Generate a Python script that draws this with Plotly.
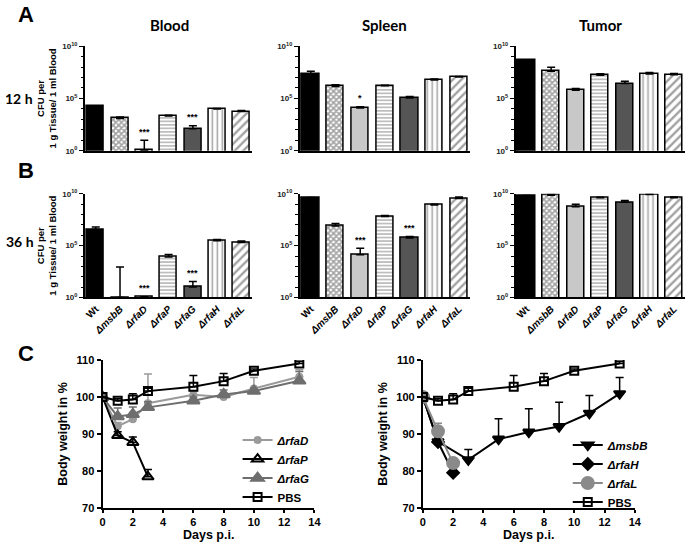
import math
import plotly.graph_objects as go

W, H = 696, 549

# ---- bar data (CFU per g tissue / ml blood), mean and upper SEM ----
strains = ["Wt", "ΔmsbB", "ΔrfaD", "ΔrfaP", "ΔrfaG", "ΔrfaH", "ΔrfaL"]

blood_12h = [1.7e4, 1.2e3, 1.1, 2.1e3, 1.3e2, 1.0e4, 5.5e3]
blood_12h_sem = [2e3, 5e2, 9, 4e2, 1.2e2, 1.2e3, 1.5e3]
spleen_12h = [2.2e7, 1.4e6, 1.2e4, 1.6e6, 1.1e5, 5.8e6, 1.1e7]
spleen_12h_sem = [1.8e7, 6e5, 4e3, 2e5, 4e4, 1.3e6, 1.6e6]
tumor_12h = [4.3e8, 4.0e7, 5.9e5, 1.6e7, 2.6e6, 2.2e7, 1.8e7]
tumor_12h_sem = [5e7, 5.3e7, 3e5, 6.4e6, 1.8e6, 8e6, 6e6]

blood_36h = [3.7e6, 1.0, 1.1, 7.9e3, 10, 3.0e5, 2.0e5]
blood_36h_sem = [2.6e6, 890, 0.1, 6.2e3, 25, 1e5, 8e4]
spleen_36h = [4.2e9, 7.8e6, 1.3e4, 6.3e7, 5.4e5, 8.5e8, 3.6e9]
spleen_36h_sem = [3e8, 6e6, 4.3e4, 1.6e7, 2.2e5, 1.5e8, 1.4e9]
tumor_36h = [6.5e9, 7.4e9, 5.6e8, 4.2e9, 1.5e9, 8.5e9, 4.2e9]
tumor_36h_sem = [3e8, 1.9e9, 4.2e8, 5e8, 7e8, 1.5e9, 8e8]

# significance marks: (panel index, strain index, text)
stars = [(0, 2, "***"), (0, 4, "***"), (1, 2, "*"),
         (3, 2, "***"), (3, 4, "***"), (4, 2, "***"), (4, 4, "***")]

# ---- body weight data (%) ----
days_rfaD = [0, 1, 2, 3, 6, 8, 10, 13]
rfaD = [100, 92.1, 94.0, 98.3, 100.6, 100.0, 102.3, 105.5]
rfaD_sem = [0, 1.0, 1.0, 7.9, 1.0, 1.0, 3.0, 1.9]
days_rfaP = [0, 1, 2, 3]
rfaP = [100, 89.6, 87.7, 78.4]
rfaP_sem = [0, 1.0, 1.5, 2.0]
days_rfaG = [0, 1, 2, 3, 6, 8, 10, 13]
rfaG = [100, 94.7, 95.3, 97.2, 99.0, 100.7, 101.6, 104.4]
rfaG_sem = [0, 2.3, 2.0, 1.5, 1.0, 1.2, 0.8, 2.5]
days_pbs = [0, 1, 2, 3, 6, 8, 10, 13]
pbs = [100, 99.0, 99.3, 101.6, 102.8, 104.3, 107.1, 109.1]
pbs_sem = [0, 0.5, 1.6, 0.8, 3.0, 2.1, 0.5, 0.5]
days_msbB = [0, 1, 3, 5, 7, 9, 11, 13]
msbB = [100, 87.9, 83.0, 88.6, 90.5, 92.0, 95.6, 100.9]
msbB_sem = [0, 1.0, 2.8, 5.5, 6.3, 6.6, 4.8, 4.4]
days_rfaH = [0, 1, 2]
rfaH = [100, 87.8, 79.5]
rfaH_sem = [0, 0.5, 0.5]
days_rfaL = [0, 1, 2]
rfaL = [100, 90.7, 82.1]
rfaL_sem = [0, 2.2, 1.4]

FONT = "Liberation Sans"
TITLE_FONT = "Lato"

bar_colors = ["black", "white", "#c8c8c8", "white", "#555555", "white", "white"]
bar_shapes = ["", "x", "", "-", "", "|", "/"]
bar_sizes = [4, 4, 4, 3.5, 4, 5, 6]
bar_solid = [0.3, 0.65, 0.3, 0.35, 0.3, 0.3, 0.4]


def px_x(a, b):
    return [a / W, b / W]


def px_y(top, bottom):
    return [1 - bottom / H, 1 - top / H]


fig = go.Figure()

panels = [
    (blood_12h, blood_12h_sem, (83, 253), (41, 148)),
    (spleen_12h, spleen_12h_sem, (301, 474), (41, 148)),
    (tumor_12h, tumor_12h_sem, (520, 692), (41, 148)),
    (blood_36h, blood_36h_sem, (83, 253), (192, 298)),
    (spleen_36h, spleen_36h_sem, (301, 474), (192, 298)),
    (tumor_36h, tumor_36h_sem, (520, 692), (192, 298)),
]

tick_text = ["<b>Wt</b>"] + ["<b><i>%s</i></b>" % s for s in strains[1:]]
minor_vals = [10 ** k for k in range(1, 10) if k != 5]

for i, (vals, sem, xd, yd) in enumerate(panels):
    n = i + 1
    xa = "x" if n == 1 else "x%d" % n
    ya = "y" if n == 1 else "y%d" % n
    fig.add_trace(go.Bar(
        x=list(range(len(strains))), y=vals, xaxis=xa, yaxis=ya,
        width=0.7, showlegend=False,
        marker=dict(color=bar_colors, line=dict(color="black", width=1.5),
                    pattern=dict(shape=bar_shapes, fgcolor="black", bgcolor="white",
                                 size=bar_sizes, solidity=bar_solid, fillmode="overlay")),
        error_y=dict(type="data", symmetric=False, array=sem,
                     arrayminus=[0] * len(sem), color="black", thickness=1.5, width=4),
    ))
    xaxis = dict(
        domain=px_x(*xd), anchor=ya, range=[-0.45, 6.45],
        showline=True, linecolor="black", linewidth=1.5, ticks="",
        showticklabels=n > 3, showgrid=False, zeroline=False)
    if n > 3:
        xaxis.update(tickmode="array", tickvals=list(range(len(strains))),
                     ticktext=tick_text, tickangle=-45,
                     tickfont=dict(family=FONT, size=10, color="black"))
    fig.layout["xaxis%d" % n] = xaxis
    fig.layout["yaxis%d" % n] = dict(
        domain=px_y(*yd), anchor=xa, type="log", range=[0, 10],
        showline=True, linecolor="black", linewidth=1.5,
        ticks="outside", ticklen=4, tickwidth=1.2, tickcolor="black",
        tickmode="array", tickvals=[1, 1e5, 1e10],
        ticktext=["<b>10<sup>0</sup></b>", "<b>10<sup>5</sup></b>", "<b>10<sup>10</sup></b>"],
        tickfont=dict(family=FONT, size=8, color="#222"),
        minor=dict(tickmode="array", tickvals=minor_vals, ticks="outside",
                   ticklen=2.5, tickwidth=1, tickcolor="black"),
        showgrid=False, zeroline=False)
    if n in (1, 4):
        fig.layout["yaxis%d" % n].title = dict(
            text="<b>CFU per<br>1 g Tissue/ 1 ml Blood</b>",
            font=dict(family=FONT, size=9.5, color="black"), standoff=4)

annotations = []
for p, s, txt in stars:
    vals, sem = panels[p][0], panels[p][1]
    top = math.log10(vals[s] + sem[s])
    n = p + 1
    annotations.append(dict(
        x=s, y=top + 0.15, xref="x" if n == 1 else "x%d" % n,
        yref="y" if n == 1 else "y%d" % n, text="<b>%s</b>" % txt,
        showarrow=False, yanchor="bottom", xanchor="center",
        font=dict(family=FONT, size=9, color="black")))


# ---- body weight panels ----
def line_trace(x, y, sem, name, color, symbol, size, ax, legend):
    return go.Scatter(
        x=x, y=y, name=name, mode="lines+markers", xaxis="x" + ax, yaxis="y" + ax,
        legend=legend,
        line=dict(color=color, width=2),
        marker=dict(symbol=symbol, size=size, color=color,
                    line=dict(color=color, width=2)),
        error_y=dict(type="data", symmetric=False, array=sem,
                     arrayminus=[0] * len(sem), color=color, thickness=1.5, width=4))


fig.add_trace(line_trace(days_rfaD, rfaD, rfaD_sem, "<i>ΔrfaD</i>", "#9a9a9a",
                         "circle", 6, "7", "legend"))
fig.add_trace(line_trace(days_rfaP, rfaP, rfaP_sem, "<i>ΔrfaP</i>", "black",
                         "triangle-up-open", 10, "7", "legend"))
fig.add_trace(line_trace(days_rfaG, rfaG, rfaG_sem, "<i>ΔrfaG</i>", "#6e6e6e",
                         "triangle-up", 11, "7", "legend"))
fig.add_trace(line_trace(days_pbs, pbs, pbs_sem, "PBS", "black",
                         "square-open", 8, "7", "legend"))

fig.add_trace(line_trace(days_msbB, msbB, msbB_sem, "<i>ΔmsbB</i>", "black",
                         "triangle-down", 10, "8", "legend2"))
fig.add_trace(line_trace(days_rfaH, rfaH, rfaH_sem, "<i>ΔrfaH</i>", "black",
                         "diamond", 9, "8", "legend2"))
fig.add_trace(line_trace(days_rfaL, rfaL, rfaL_sem, "<i>ΔrfaL</i>", "#8a8a8a",
                         "circle", 12, "8", "legend2"))
fig.add_trace(line_trace(days_pbs, pbs, pbs_sem, "PBS", "black",
                         "square-open", 8, "8", "legend2"))

for n, xd in ((7, (101, 316)), (8, (426, 641))):
    fig.layout["xaxis%d" % n] = dict(
        domain=px_x(*xd), anchor="y%d" % n, range=[0, 14], dtick=2,
        showline=True, linecolor="black", linewidth=2,
        ticks="outside", ticklen=3, tickwidth=2, tickcolor="black",
        tickfont=dict(family=FONT, size=11, color="black", weight="bold"),
        showgrid=False, zeroline=False)
    fig.layout["yaxis%d" % n] = dict(
        domain=px_y(362, 513), anchor="x%d" % n, range=[70, 110], dtick=10,
        showline=True, linecolor="black", linewidth=2,
        ticks="outside", ticklen=4, tickwidth=2, tickcolor="black",
        tickfont=dict(family=FONT, size=11, color="black", weight="bold"),
        title=dict(text="<b>Body weight in %</b>",
                   font=dict(family=FONT, size=12.5, color="black"), standoff=6),
        showgrid=False, zeroline=False)

legend_style = dict(font=dict(family=FONT, size=11.5, color="black", weight="bold"),
                    bgcolor="rgba(0,0,0,0)", itemwidth=30, tracegroupgap=0,
                    xanchor="left", yanchor="top")
fig.update_layout(
    legend=dict(x=238 / W, y=1 - 429 / H, **legend_style),
    legend2=dict(x=573 / W, y=1 - 434 / H, **legend_style),
)


# ---- text labels ----
def label(x, y, text, size, family=FONT):
    annotations.append(dict(x=x / W, y=1 - y / H, xref="paper", yref="paper",
                            xanchor="center", yanchor="middle",
                            text="<b>%s</b>" % text, showarrow=False,
                            font=dict(family=family, size=size, color="black")))


label(23, 9, "A", 22)
label(23, 168, "B", 22)
label(23, 355, "C", 22)
label(169, 19, "Blood", 15, TITLE_FONT)
label(387, 19, "Spleen", 15, TITLE_FONT)
label(606, 19, "Tumor", 15, TITLE_FONT)
label(16, 95, "12 h", 14, TITLE_FONT)
label(17, 241, "36 h", 14, TITLE_FONT)
label(208, 541, "Days p.i.", 12.5)
label(533, 541, "Days p.i.", 12.5)

fig.update_layout(
    width=W, height=H, margin=dict(l=0, r=0, t=0, b=0),
    paper_bgcolor="white", plot_bgcolor="white",
    bargap=0, annotations=annotations,
)

fig.write_html("out.html", config={"displayModeBar": False},
               post_script="document.body.style.margin='0px';")
